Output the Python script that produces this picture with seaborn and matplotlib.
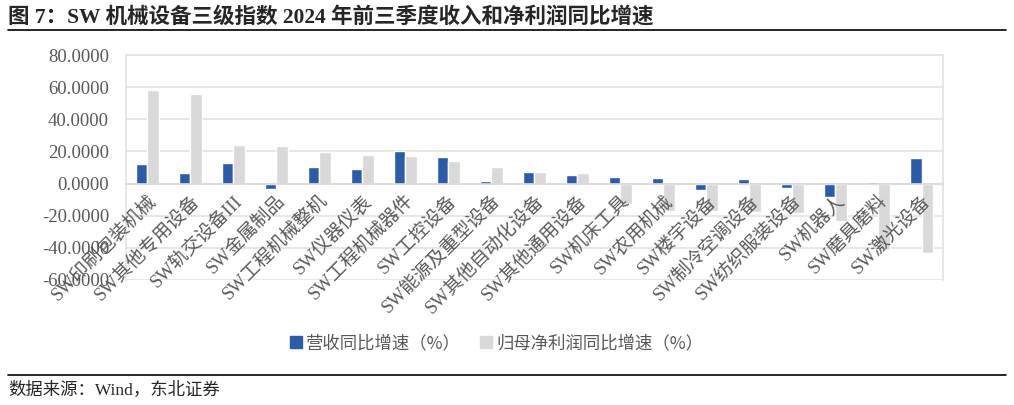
import pandas as pd
import matplotlib.pyplot as plt
import seaborn as sns
from matplotlib.lines import Line2D

# data
categories = ["SW印刷包装机械", "SW其他专用设备", "SW轨交设备III", "SW金属制品", "SW工程机械整机",
              "SW仪器仪表", "SW工程机械器件", "SW工控设备", "SW能源及重型设备", "SW其他自动化设备",
              "SW其他通用设备", "SW机床工具", "SW农用机械", "SW楼宇设备", "SW制冷空调设备",
              "SW纺织服装设备", "SW机器人", "SW磨具磨料", "SW激光设备"]
revenue_yoy = [12.2, 6.6, 13.0, -3.3, 10.3, 8.9, 20.0, 16.7, 1.6, 7.2,
               5.4, 3.9, 3.5, -4.3, 3.1, -2.7, -8.3, 0.7, 15.9]
profit_yoy = [58.2, 55.9, 24.1, 23.3, 19.4, 18.0, 17.3, 14.2, 10.1, 7.0,
              6.6, -13.0, -17.1, -17.1, -17.5, -18.2, -23.3, -41.3, -43.5]
series_names = ["营收同比增速（%）", "归母净利润同比增速（%）"]
yticks = [-60, -40, -20, 0, 20, 40, 60, 80]

df = pd.DataFrame({
    "category": categories * 2,
    "value": revenue_yoy + profit_yoy,
    "series": [series_names[0]] * len(categories) + [series_names[1]] * len(categories),
})

sns.set_style("white")
plt.rcParams["font.family"] = ["Liberation Serif", "Noto Sans CJK SC"]

blue = "#2B5BAB"
grey = "#D9D9D9"
text_grey = "#595959"
grid_grey = "#E3E3E3"

fig = plt.figure(figsize=(10.14, 4.05), dpi=100)
ax = fig.add_axes([0.124, 0.309, 0.806, 0.555])

sns.barplot(data=df, x="category", y="value", hue="series", order=categories,
            palette=[blue, grey], width=0.54, ax=ax, legend=False, saturation=1)

ax.set_ylim(-60, 80)
ax.set_yticks(yticks)
ax.set_yticklabels([f"{v:.4f}" for v in yticks], fontsize=13.5, color=text_grey)
ax.set_xlim(-0.5, len(categories) - 0.5)
ax.set_xlabel("")
ax.set_ylabel("")
ax.grid(False)
for v in yticks:
    ax.axhline(v, color=grid_grey, linewidth=1.2, zorder=0.5)
# keep tick labels above the bars, like the original
ax.set_axisbelow(False)
ax.tick_params(length=0)
ax.tick_params(axis="y", pad=12)

for s in ["left", "right", "top"]:
    ax.spines[s].set_color(grid_grey)
    ax.spines[s].set_linewidth(1.2)
ax.spines["bottom"].set_position(("data", 0))
ax.spines["bottom"].set_color("#D9D9D9")
ax.spines["bottom"].set_linewidth(1.2)

ax.set_xticks(range(len(categories)))
ax.set_xticklabels(categories, rotation=45, ha="right", va="top", rotation_mode="anchor",
                   fontsize=13.5, color=text_grey)
ax.tick_params(axis="x", pad=6)

# legend
handles = [Line2D([], [], marker="s", linestyle="", markersize=9, color=c) for c in (blue, grey)]
fig.legend(handles, series_names, loc="center", bbox_to_anchor=(0.49, 0.153), ncol=2,
           frameon=False, handlelength=0.7, handletextpad=0.25, columnspacing=1.1,
           prop={"family": ["Noto Sans CJK SC"], "size": 12.5}, labelcolor=text_grey)

# title, rules and source
fig.text(0.008, 0.958, "图 7：SW 机械设备三级指数 2024 年前三季度收入和净利润同比增速",
         fontsize=15.5, fontweight="bold", ha="left", va="center",
         family=["Liberation Serif", "Noto Sans CJK SC"])
fig.add_artist(Line2D([0.008, 0.992], [0.926, 0.926], color="black", linewidth=1.2))
fig.add_artist(Line2D([0.008, 0.992], [0.074, 0.074], color="black", linewidth=1.2))
fig.text(0.008, 0.037, "数据来源：Wind，东北证券", fontsize=12.5, ha="left", va="center",
         family=["Liberation Serif", "Noto Sans CJK SC"])

fig.savefig("out.png", dpi=100)
